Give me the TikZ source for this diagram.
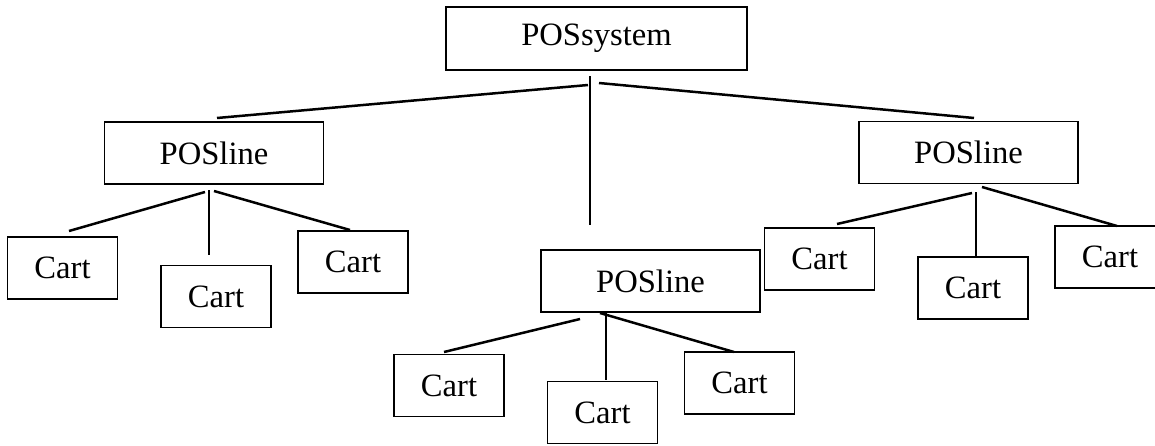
\documentclass[tikz,border=0pt]{standalone}
\usepackage{fontspec}
\setmainfont{Liberation Serif}
\begin{document}
\begin{tikzpicture}[x=0.5pt,y=-0.5pt,
  box/.style={draw=black,line width=0.7pt,inner sep=0pt,font=\fontsize{16.3}{18}\selectfont},
  sysbox/.style={box,minimum width=150.5pt,minimum height=31.5pt},
  linebox/.style={box,minimum width=109.5pt,minimum height=31pt},
  cartbox/.style={box,minimum width=55pt,minimum height=31pt},
  conn/.style={line width=1.25pt}]
\useasboundingbox (0,0) rectangle (1155,445);
% boxes
\node[sysbox] (sys) at (596.5,38.5) {POSsystem};
\node[linebox] (la) at (214,153) {POSline};
\node[linebox] (lb) at (650.5,281) {POSline};
\node[linebox] (lc) at (968.5,152.5) {POSline};
\node[cartbox] (c1) at (62.5,268) {Cart};
\node[cartbox] (c2) at (216,296.5) {Cart};
\node[cartbox] (c3) at (353,262) {Cart};
\node[cartbox] (c4) at (449,385.5) {Cart};
\node[cartbox] (c5) at (602.5,412.5) {Cart};
\node[cartbox] (c6) at (739.5,383) {Cart};
\node[cartbox] (c7) at (819.5,259) {Cart};
\node[cartbox] (c8) at (973,288) {Cart};
\node[cartbox] (c9) at (1110,257) {Cart};
% connector end points
\coordinate (s0) at (590,76);
\coordinate (s1) at (590,225);
\coordinate (sL) at (588,85);
\coordinate (sR) at (599,83);
\coordinate (laT) at (217,118);
\coordinate (lcT) at (974,118);
\coordinate (a0) at (209,190);
\coordinate (a1) at (209,255);
\coordinate (aL) at (205,192);
\coordinate (aR) at (214,191);
\coordinate (c1T) at (69,231);
\coordinate (c3T) at (350,230);
\coordinate (b0) at (606,313);
\coordinate (b1) at (606,380);
\coordinate (bL) at (580,319);
\coordinate (bR) at (600,313);
\coordinate (c4T) at (444,352);
\coordinate (c6T) at (734,352);
\coordinate (d0) at (976,192);
\coordinate (d1) at (976,256);
\coordinate (dL) at (972,193);
\coordinate (dR) at (982,187);
\coordinate (c7T) at (837,224);
\coordinate (c9T) at (1117,226);
% connectors
\draw[conn] (s0) -- (s1);
\draw[conn] (sL) -- (laT);
\draw[conn] (sR) -- (lcT);
\draw[conn] (a0) -- (a1);
\draw[conn] (aL) -- (c1T);
\draw[conn] (aR) -- (c3T);
\draw[conn] (b0) -- (b1);
\draw[conn] (bL) -- (c4T);
\draw[conn] (bR) -- (c6T);
\draw[conn] (d0) -- (d1);
\draw[conn] (dL) -- (c7T);
\draw[conn] (dR) -- (c9T);
\end{tikzpicture}
\end{document}
